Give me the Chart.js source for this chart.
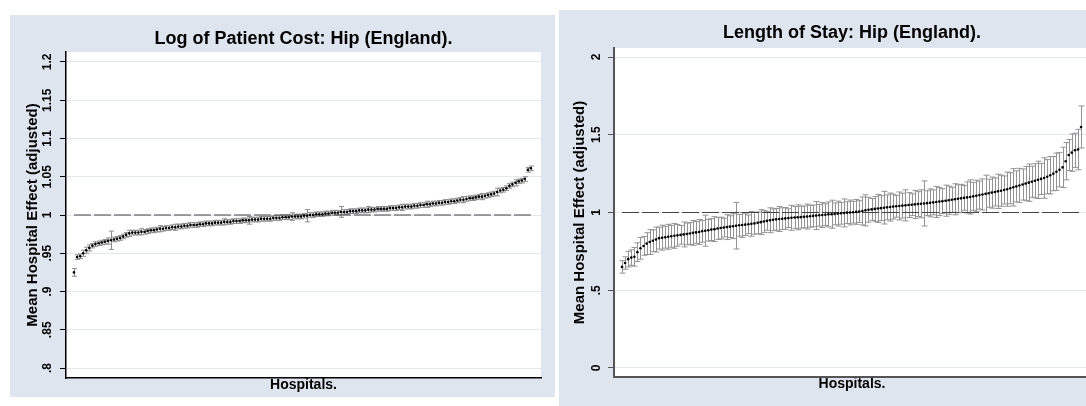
<!DOCTYPE html>
<html>
<head>
<meta charset="utf-8">
<script src="https://cdn.jsdelivr.net/npm/chart.js"></script>
<style>
html, body { margin: 0; padding: 0; background: #fff; width: 1086px; height: 406px; overflow: hidden; }
.panel { position: absolute; background: #dfe5ef; }
#p1 { left: 10px; top: 15px; width: 545px; height: 382px; }
#p2 { left: 559px; top: 10px; width: 545px; height: 396px; }
canvas { display: block; }
</style>
</head>
<body>
<div class="panel" id="p1"><canvas id="costChart" width="545" height="382"></canvas></div>
<div class="panel" id="p2"><canvas id="stayChart" width="545" height="396"></canvas></div>
<script>
// hospitals in rank order, mean effect and half-width of the interval
var costMean = [
  .925,.945,.946,.950,.954,.957,.960,.962,.963,.964,
  .965,.966,.967,.968,.969,.970,.972,.974,.976,.977,
  .977,.977,.978,.978,.979,.980,.980,.981,.982,.982,
  .983,.983,.984,.984,.985,.985,.986,.986,.987,.987,
  .987,.988,.988,.989,.989,.989,.990,.990,.990,.991,
  .991,.991,.992,.992,.992,.993,.993,.993,.994,.994,
  .994,.995,.995,.995,.995,.996,.996,.996,.997,.997,
  .997,.998,.998,.998,.998,.999,.999,1.000,1.000,1.001,
  1.001,1.001,1.002,1.002,1.003,1.003,1.003,1.004,1.004,1.004,
  1.005,1.005,1.005,1.006,1.006,1.006,1.007,1.007,1.007,1.008,
  1.008,1.008,1.008,1.009,1.009,1.009,1.010,1.010,1.011,1.011,
  1.011,1.012,1.012,1.013,1.013,1.014,1.014,1.015,1.015,1.016,
  1.016,1.017,1.017,1.018,1.018,1.019,1.020,1.020,1.021,1.022,
  1.022,1.023,1.024,1.024,1.025,1.026,1.027,1.028,1.030,1.032,
  1.033,1.035,1.038,1.040,1.042,1.044,1.045,1.047,1.059,1.061
];
var costErr = [
  .005,.003,.003,.004,.004,.004,.003,.003,.003,.003,
  .003,.004,.012,.003,.003,.003,.003,.003,.004,.003,
  .003,.003,.004,.003,.003,.003,.003,.003,.004,.003,
  .003,.003,.003,.004,.003,.003,.003,.003,.003,.003,
  .003,.003,.003,.003,.003,.003,.003,.003,.003,.004,
  .003,.003,.003,.003,.003,.003,.003,.005,.003,.003,
  .003,.003,.003,.003,.003,.003,.003,.003,.003,.003,
  .003,.005,.003,.003,.003,.003,.008,.003,.003,.003,
  .003,.003,.003,.003,.003,.003,.003,.007,.003,.003,
  .003,.003,.003,.003,.003,.003,.004,.003,.003,.003,
  .003,.003,.003,.003,.003,.003,.003,.004,.003,.003,
  .003,.003,.003,.003,.003,.004,.003,.003,.003,.003,
  .003,.003,.003,.003,.003,.003,.003,.004,.003,.003,
  .003,.003,.003,.004,.003,.003,.003,.003,.005,.003,
  .003,.003,.003,.003,.004,.003,.003,.003,.003,.003
];
var stayMean = [
  .650,.675,.700,.710,.715,.745,.770,.785,.800,.810,
  .818,.826,.835,.838,.841,.844,.847,.850,.853,.856,
  .859,.862,.865,.869,.872,.875,.879,.883,.886,.890,
  .893,.897,.900,.903,.906,.909,.912,.915,.918,.920,
  .922,.924,.927,.930,.934,.938,.942,.946,.950,.953,
  .956,.958,.960,.962,.964,.966,.968,.969,.970,.972,
  .974,.976,.978,.980,.982,.984,.986,.988,.989,.991,
  .993,.995,.997,.999,1.000,1.002,1.004,1.006,1.010,1.014,
  1.018,1.020,1.023,1.026,1.028,1.031,1.033,1.035,1.038,1.040,
  1.042,1.044,1.046,1.048,1.050,1.052,1.054,1.056,1.058,1.060,
  1.062,1.065,1.068,1.070,1.073,1.076,1.079,1.082,1.085,1.088,
  1.091,1.094,1.097,1.100,1.104,1.108,1.112,1.116,1.120,1.124,
  1.128,1.132,1.136,1.140,1.145,1.150,1.156,1.162,1.168,1.174,
  1.180,1.186,1.192,1.198,1.204,1.210,1.216,1.222,1.230,1.240,
  1.250,1.262,1.275,1.290,1.330,1.370,1.385,1.400,1.405,1.550
];
var stayErr = [
  .04,.04,.05,.05,.06,.06,.07,.06,.07,.08,
  .07,.08,.07,.08,.07,.08,.07,.08,.07,.06,
  .08,.07,.07,.08,.07,.08,.07,.10,.07,.07,
  .08,.07,.07,.06,.08,.07,.08,.15,.07,.08,
  .07,.06,.08,.07,.07,.08,.07,.06,.08,.07,
  .07,.08,.07,.07,.06,.08,.07,.08,.07,.07,
  .08,.07,.07,.09,.07,.08,.07,.08,.09,.07,
  .08,.07,.09,.07,.08,.07,.08,.07,.09,.10,
  .08,.07,.08,.09,.08,.105,.08,.09,.08,.07,
  .09,.08,.10,.08,.07,.09,.08,.09,.145,.08,
  .09,.08,.10,.09,.08,.10,.09,.08,.10,.09,
  .09,.08,.10,.11,.09,.10,.09,.10,.12,.09,
  .10,.09,.11,.10,.09,.11,.10,.12,.10,.11,
  .10,.11,.12,.10,.11,.12,.10,.13,.11,.12,
  .11,.12,.11,.13,.12,.10,.12,.11,.13,.135
];
var costTicks = [0.8, 0.85, 0.9, 0.95, 1, 1.05, 1.1, 1.15, 1.2];
var costTickLabels = [".8", ".85", ".9", ".95", "1", "1.05", "1.1", "1.15", "1.2"];
var stayTicks = [0, 0.5, 1, 1.5, 2];
var stayTickLabels = ["0", ".5", "1", "1.5", "2"];

var FONT = "'Liberation Sans', Arial, sans-serif";

// white plot region on the bluish panel
var plotBg = {
  id: 'plotBg',
  beforeDraw: function(chart) {
    var a = chart.chartArea, ctx = chart.ctx;
    ctx.save();
    ctx.fillStyle = '#fff';
    ctx.fillRect(a.left, a.top, a.right - a.left, a.bottom - a.top);
    ctx.restore();
  }
};

// capped error bars from each point's dataset
var errorBars = {
  id: 'errorBars',
  beforeDatasetsDraw: function(chart) {
    var ctx = chart.ctx, x = chart.scales.x, y = chart.scales.y;
    var ds = chart.data.datasets[0];
    ctx.save();
    ctx.strokeStyle = ds.errColor;
    ctx.lineWidth = 1;
    ds.data.forEach(function(p, i) {
      var px = Math.round(x.getPixelForValue(p.x)) + 0.5;
      var lo = y.getPixelForValue(p.y - ds.errors[i]);
      var hi = y.getPixelForValue(p.y + ds.errors[i]);
      ctx.beginPath();
      ctx.moveTo(px, lo); ctx.lineTo(px, hi);
      ctx.moveTo(px - ds.cap, lo); ctx.lineTo(px + ds.cap, lo);
      ctx.moveTo(px - ds.cap, hi); ctx.lineTo(px + ds.cap, hi);
      ctx.stroke();
    });
    ctx.restore();
  }
};

function makeChart(id, s) {
  var n = s.mean.length;
  return new Chart(document.getElementById(id), {
    type: 'scatter',
    data: {
      datasets: [{
        data: s.mean.map(function(v, i) { return {x: i, y: v}; }),
        errors: s.err, errColor: s.errColor, cap: s.cap,
        pointRadius: 1.3, pointBorderWidth: 0, pointBackgroundColor: '#000'
      }, {
        type: 'line',
        data: [{x: 0, y: 1}, {x: n - 1, y: 1}],
        borderColor: '#444', borderWidth: 1.2, borderDash: [17, 3],
        pointRadius: 0
      }]
    },
    options: {
      responsive: false,
      animation: false,
      layout: {padding: {left: 0, right: 14, top: 0, bottom: 0}},
      plugins: {
        legend: {display: false},
        tooltip: {enabled: false},
        title: {
          display: true, text: s.title, color: '#000', fullSize: false,
          font: {family: FONT, size: 18, weight: 'bold'},
          padding: s.titlePad
        }
      },
      scales: {
        x: {
          type: 'linear', min: -2.6, max: s.xMax,
          ticks: {display: false},
          grid: {display: false, drawTicks: false},
          border: {display: true, color: s.axisColor, width: s.axisWidth},
          title: {display: true, text: 'Hospitals.', color: '#000',
                  font: {family: FONT, size: 14, weight: 'bold'},
                  padding: {top: 0, bottom: s.xTitlePad}},
          afterFit: function(sc) { sc.height = s.xHeight; }
        },
        y: {
          min: s.yMin, max: s.yMax,
          afterBuildTicks: function(sc) { sc.ticks = s.ticks.map(function(v) { return {value: v}; }); },
          ticks: {
            callback: function(v) { return s.tickLabels[s.ticks.indexOf(v)]; },
            minRotation: 90, maxRotation: 90, crossAlign: 'center', padding: s.tickPad,
            color: '#000', font: {family: FONT, size: 12, weight: 'bold'}
          },
          grid: {color: '#e2e7f1', tickColor: s.axisColor, tickLength: 6, lineWidth: 1},
          border: {color: s.axisColor, width: s.axisWidth},
          title: {display: true, text: 'Mean Hospital Effect (adjusted)', color: '#000',
                  font: {family: FONT, size: 15, weight: 'bold'},
                  padding: {top: s.yTitlePad, bottom: 0}},
          afterFit: function(sc) { sc.width = s.yWidth; }
        }
      }
    },
    plugins: [plotBg, errorBars]
  });
}

makeChart('costChart', {
  mean: costMean, err: costErr, errColor: '#8c8c8c', cap: 2.5,
  title: 'Log of Patient Cost: Hip (England).', titlePad: {top: 13, bottom: 2.4},
  xMax: 152.3, xHeight: 19, xTitlePad: 3,
  yMin: 0.787, yMax: 1.213, ticks: costTicks, tickLabels: costTickLabels,
  yWidth: 56, yTitlePad: 14, tickPad: 0.3,
  axisColor: '#000', axisWidth: 1.5
});

makeChart('stayChart', {
  mean: stayMean, err: stayErr, errColor: '#939393', cap: 3,
  title: 'Length of Stay: Hip (England).', titlePad: {top: 12.5, bottom: 3.9},
  xMax: 151.9, xHeight: 29, xTitlePad: 13,
  yMin: -0.058, yMax: 2.058, ticks: stayTicks, tickLabels: stayTickLabels,
  yWidth: 55, yTitlePad: 12, tickPad: 2.7,
  axisColor: '#555', axisWidth: 2
});
</script>
</body>
</html>
